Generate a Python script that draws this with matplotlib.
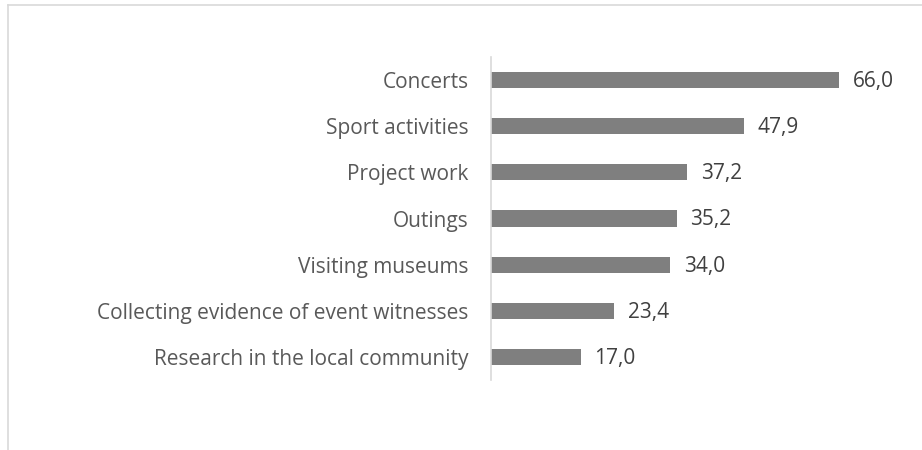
import numpy as np
import matplotlib as mpl
mpl.use('Agg')
from matplotlib import pyplot as plt
from matplotlib.lines import Line2D

categories = ['Concerts', 'Sport activities', 'Project work', 'Outings',
              'Visiting museums', 'Collecting evidence of event witnesses',
              'Research in the local community']
values = [66.0, 47.9, 37.2, 35.2, 34.0, 23.4, 17.0]

plt.rcParams['font.family'] = ['Open Sans', 'DejaVu Sans']

fig = plt.figure(figsize=(9.22, 4.5), dpi=100)
ax = fig.add_axes([491/922, 1 - 380/450, (860 - 491)/922, (380 - 57)/450])

y = np.arange(len(categories))
ax.barh(y, values, height=0.35, color='#7f7f7f')
ax.set_ylim(len(categories) - 0.5, -0.5)
ax.set_xlim(0, 70)
ax.set_yticks(y)
ax.set_yticklabels(categories, fontsize=15, color='#595959')
ax.tick_params(axis='y', length=0, pad=16)
ax.set_xticks([])
for s in ['top', 'right', 'bottom']:
    ax.spines[s].set_visible(False)
ax.spines['left'].set_color('#d9d9d9')
ax.spines['left'].set_linewidth(1.2)

for yi, v in zip(y, values):
    ax.text(v + 2.6, yi + 0.03, '{:.1f}'.format(v).replace('.', ','), va='center', ha='left',
            fontsize=15, color='#404040')

# chart frame (left and top edges visible)
fig.add_artist(Line2D([8/922, 8/922], [0, 1 - 5/450], color='#d9d9d9', lw=1.2, transform=fig.transFigure))
fig.add_artist(Line2D([8/922, 1], [1 - 5/450, 1 - 5/450], color='#d9d9d9', lw=1.2, transform=fig.transFigure))

plt.savefig('out.png', dpi=100)
